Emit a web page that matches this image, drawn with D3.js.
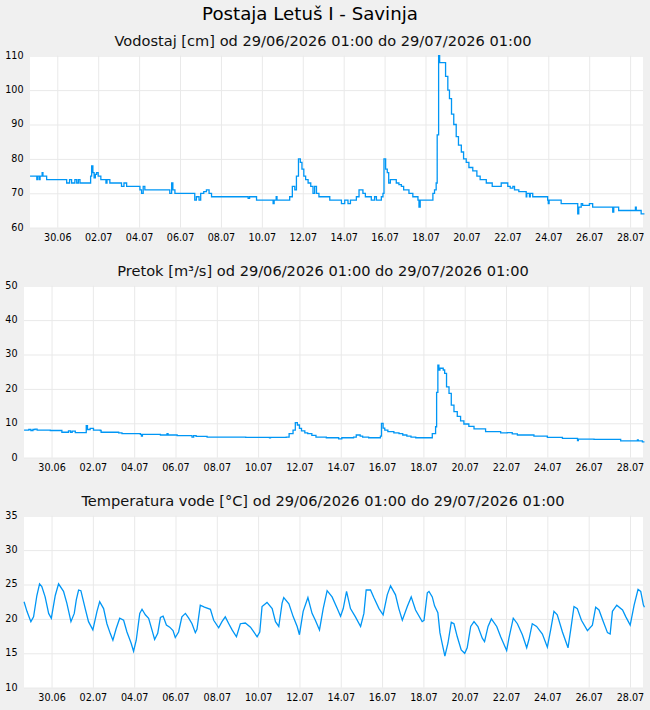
<!DOCTYPE html>
<html>
<head>
<meta charset="utf-8">
<script src="https://cdn.jsdelivr.net/npm/d3@7"></script>
<style>
    body { margin: 0; background: #f0f0f0; }
    svg { display: block; font-family: "DejaVu Sans", sans-serif; }
    .grid line { stroke: #e9e9e9; stroke-width: 1; }
    .tick text { fill: #000; }
</style>
</head>
<body>
<svg id="chart" width="650" height="710"></svg>
<script>
// times are days after 30.06.2026 00:00
const levelDays = [-1.33,-1.0,-0.96,-0.88,-0.84,-0.74,-0.7,-0.52,0.46,0.6,0.7,0.86,0.95,1.03,1.11,1.63,1.68,1.74,1.8,1.86,1.92,2.0,2.13,2.38,2.43,2.57,3.14,3.26,3.39,4.04,4.12,4.2,4.28,5.5,5.59,5.65,5.75,6.72,6.8,6.93,7.01,7.16,7.29,7.42,7.54,9.33,9.4,9.74,10.55,10.6,10.7,10.74,11.36,11.49,11.61,11.69,11.79,11.88,11.96,12.05,12.14,12.26,12.39,12.5,12.58,12.67,12.79,13.32,13.89,14.05,14.21,14.33,14.62,14.75,14.94,15.06,15.35,15.51,15.6,15.84,15.92,15.97,16.05,16.13,16.2,16.28,16.57,16.7,16.82,16.93,17.19,17.38,17.63,17.68,17.74,18.36,18.44,18.52,18.57,18.64,18.69,18.98,19.09,19.17,19.27,19.38,19.5,19.61,19.75,19.86,19.99,20.12,20.31,20.51,20.67,20.97,21.26,21.7,22.02,22.14,22.27,22.35,22.56,22.92,22.95,23.08,23.12,23.24,23.97,24.0,24.04,24.63,25.44,25.49,25.61,25.68,26.01,26.17,27.15,27.2,27.44,28.26,28.3,28.54,28.7]
const levelValues = [75,74,75,74,75,76,75,74,73,74,73,74,73,74,73,75,78,76,74.5,75.5,76,75,74,73,74,73,72,73,72,71,70,72,71,70,73,71,70,68,69,68,70,70.5,71,70,69,68.5,69,68,67,68,69,68,69,72,71,75,80,79,77,75,74,73,72,70,72,70,69,68,67,68,67,68,69,71,70,69,68,69,68,69,70,80,77,76,73,74,73,72.5,72,71,70,69,68,66,68,70,71,73,87,110,108,104,100,97.5,93,90,86.5,84,82,80,79,77.5,76.5,75,74,73,72,73,72,71.5,72,71,70.5,69,70,69,70,69,68,67,68,67,64,66,67,66.5,67,66,64.5,66,65,66,65,64,64]

const flowDays = [-1.33,-1.1,-1.0,-0.9,-0.8,-0.7,-0.06,0.5,0.82,0.92,1.0,1.15,1.68,1.74,1.87,2.03,2.36,2.4,2.55,3.25,3.41,4.3,4.35,4.4,5.27,5.59,5.64,6.08,6.8,6.88,7.0,7.53,9.4,10.55,10.6,11.36,11.5,11.69,11.8,11.9,12.0,12.1,12.26,12.4,12.6,12.8,13.3,13.9,14.05,14.33,14.62,14.75,14.94,15.06,15.35,15.92,15.97,16.05,16.13,16.28,16.57,16.82,17.0,17.2,17.4,17.63,18.43,18.59,18.64,18.7,18.75,18.8,18.96,19.03,19.12,19.24,19.35,19.48,19.64,19.8,19.96,20.2,20.45,21.01,21.74,22.06,22.3,22.55,23.35,24.0,24.73,25.46,25.5,26.26,27.55,28.36,28.4,28.6,28.7]
const flowValues = [8.0,8.2,7.9,8.2,8.3,8.0,7.9,7.4,7.8,7.4,7.7,7.3,9.3,8.2,8.5,8.0,7.9,7.4,7.4,7.2,7.0,6.8,6.3,6.8,6.6,7.0,6.6,6.4,6.0,6.4,6.2,6.0,5.9,5.8,5.9,6.0,7.0,8.0,10.2,9.5,8.5,7.8,7.2,7.0,6.5,6.0,5.8,5.5,5.8,5.8,6.0,6.6,6.3,6.0,5.8,6.3,10.0,8.6,8.0,7.6,7.2,7.0,6.6,6.3,6.0,5.8,7.0,9.0,19,26.9,25.5,26,25.5,24.5,20.6,18.7,15.3,13.4,12.0,10.7,9.8,9.1,8.4,7.6,7.2,7.3,6.9,6.6,6.3,5.9,5.6,5.0,5.4,5.3,4.9,5.2,4.9,4.6,4.6]

const tempDays = [-1.33,-1.19,-1.0,-0.87,-0.71,-0.58,-0.47,-0.31,-0.14,-0.01,0.18,0.34,0.58,0.74,0.94,1.1,1.2,1.31,1.42,1.63,1.79,2.0,2.2,2.33,2.52,2.68,2.84,2.97,3.13,3.3,3.49,3.65,3.85,3.97,4.1,4.27,4.38,4.54,4.7,4.86,4.99,5.14,5.27,5.4,5.56,5.72,5.88,5.99,6.15,6.31,6.48,6.64,6.8,6.96,7.04,7.2,7.4,7.69,7.85,8.09,8.25,8.41,8.58,8.74,8.95,9.14,9.38,9.63,9.79,9.95,10.08,10.19,10.43,10.68,10.84,11.0,11.16,11.24,11.49,11.7,11.89,12.0,12.18,12.41,12.61,12.77,12.97,13.15,13.34,13.58,13.83,13.99,14.12,14.28,14.47,14.71,14.96,15.12,15.23,15.44,15.6,15.85,16.05,16.25,16.41,16.65,16.81,16.98,17.22,17.41,17.62,17.94,18.03,18.19,18.27,18.43,18.54,18.7,18.8,18.91,19.04,19.19,19.35,19.48,19.64,19.83,20.0,20.12,20.29,20.45,20.64,20.85,20.96,21.13,21.29,21.55,21.74,22.03,22.14,22.35,22.55,22.79,23.0,23.11,23.27,23.48,23.76,24.0,24.16,24.32,24.48,24.73,25.0,25.13,25.29,25.45,25.65,25.94,26.18,26.34,26.5,26.71,26.91,27.04,27.15,27.36,27.64,27.8,28.01,28.2,28.39,28.52,28.65,28.7]
const tempValues = [22.5,21.1,19.6,20.3,23.4,25.1,24.7,23.2,20.8,20.1,23.4,25.1,24.0,22.3,19.6,20.8,22.8,24.2,24.1,21.5,19.6,18.4,21.1,22.5,21.5,19.3,17.9,16.9,18.6,20.1,19.8,18.1,16.5,15.3,16.9,20.8,21.4,20.6,20.1,18.4,17.0,17.9,20.2,20.4,19.1,18.8,18.3,17.3,18.1,20.3,20.8,20.1,19.3,18.0,18.5,22.0,21.7,21.4,19.8,18.7,19.6,20.3,19.3,18.4,17.4,19.3,19.4,18.8,18.1,17.4,18.1,21.8,22.4,21.5,19.6,18.9,22.3,23.1,22.2,20.3,18.9,17.7,21.1,23.1,20.8,19.8,18.4,21.5,24.1,23.2,21.5,20.4,21.5,24.0,21.5,20.3,18.9,20.8,24.2,24.2,23.1,21.5,20.6,23.5,24.8,23.5,21.5,19.8,21.8,23.2,21.3,19.6,19.8,23.8,24.0,23.2,21.9,20.9,18.0,16.4,14.6,16.5,19.5,19.3,17.4,15.5,15.0,15.8,18.9,19.6,18.9,17.2,16.7,18.9,20.0,18.9,17.4,15.4,17.2,20.1,19.3,17.7,15.8,17.0,19.3,18.9,17.8,15.9,18.4,21.1,20.6,18.1,15.8,18.4,21.8,21.5,19.8,18.3,19.1,21.7,21.3,19.6,18.0,17.8,21.1,22.0,21.3,20.3,19.1,22.0,24.3,24.0,22.0,21.7]

const levelTicks = [60, 70, 80, 90, 100, 110]
const flowTicks = [0, 10, 20, 30, 40, 50]
const tempTicks = [10, 15, 20, 25, 30, 35]

const chartTitle = 'Postaja Letuš I - Savinja'
const period = 'od 29/06/2026 01:00 do 29/07/2026 01:00'

const dayMs = 864e5
const base = Date.UTC(2026, 5, 30)
const toDate = t => new Date(base + t * dayMs)
const timeDomain = [toDate(-1.333), toDate(28.63)]
const dayTicks = d3.utcDay.range(new Date(base), timeDomain[1], 2)

const svg = d3.select('#chart')

svg.append('text')
    .attr('x', 310)
    .attr('y', 20)
    .attr('text-anchor', 'middle')
    .style('font-size', '18.2px')
    .text(chartTitle)

drawPanel({
    title: 'Vodostaj [cm] ' + period,
    days: levelDays, values: levelValues, ticks: levelTicks,
    left: 30, top: 55.7, step: true
})
drawPanel({
    title: 'Pretok [m³/s] ' + period,
    days: flowDays, values: flowValues, ticks: flowTicks,
    left: 24, top: 285.7, step: true
})
drawPanel({
    title: 'Temperatura vode [°C] ' + period,
    days: tempDays, values: tempValues, ticks: tempTicks,
    left: 24, top: 515.7, step: false
})

function drawPanel(p) {
    const right = 643
    const height = 172
    const bottom = p.top + height

    const x = d3.scaleUtc().domain(timeDomain).range([p.left, right])
    const y = d3.scaleLinear()
        .domain([p.ticks[0], p.ticks[p.ticks.length - 1]])
        .range([bottom, p.top])

    svg.append('text')
        .attr('x', 323)
        .attr('y', p.top - 10.2)
        .attr('text-anchor', 'middle')
        .style('font-size', '14.6px')
        .style('fill', '#111')
        .text(p.title)

    svg.append('rect')
        .attr('x', p.left)
        .attr('y', p.top)
        .attr('width', right - p.left)
        .attr('height', height)
        .attr('fill', '#fff')

    // grid lines
    svg.append('g')
        .attr('class', 'grid')
        .attr('transform', 'translate(0,' + bottom + ')')
        .call(d3.axisBottom(x).tickValues(dayTicks).tickSize(-height).tickFormat(''))
        .call(g => g.select('.domain').remove())
    svg.append('g')
        .attr('class', 'grid')
        .attr('transform', 'translate(' + p.left + ',0)')
        .call(d3.axisLeft(y).tickValues(p.ticks).tickSize(-(right - p.left)).tickFormat(''))
        .call(g => g.select('.domain').remove())

    // axis labels
    svg.append('g')
        .attr('transform', 'translate(0,' + bottom + ')')
        .call(d3.axisBottom(x).tickValues(dayTicks).tickSize(0).tickPadding(6.5)
            .tickFormat(d3.utcFormat('%d.%m')))
        .call(g => g.select('.domain').remove())
        .selectAll('text')
        .style('font-size', '9.6px')
        .style('font-family', '"DejaVu Sans", sans-serif')
    svg.append('g')
        .attr('transform', 'translate(' + p.left + ',0)')
        .call(d3.axisLeft(y).tickValues(p.ticks).tickSize(0).tickPadding(6.5))
        .call(g => g.select('.domain').remove())
        .selectAll('text')
        .attr('dy', '0.25em')
        .style('font-size', '9.6px')
        .style('font-family', '"DejaVu Sans", sans-serif')

    const line = d3.line()
        .x(d => x(toDate(d[0])))
        .y(d => y(d[1]))
        .curve(p.step ? d3.curveStepAfter : d3.curveLinear)

    svg.append('path')
        .datum(p.days.map((t, i) => [t, p.values[i]]))
        .attr('fill', 'none')
        .attr('stroke', '#0096f5')
        .attr('stroke-width', 1.3)
        .attr('d', line)
}
</script>
</body>
</html>
